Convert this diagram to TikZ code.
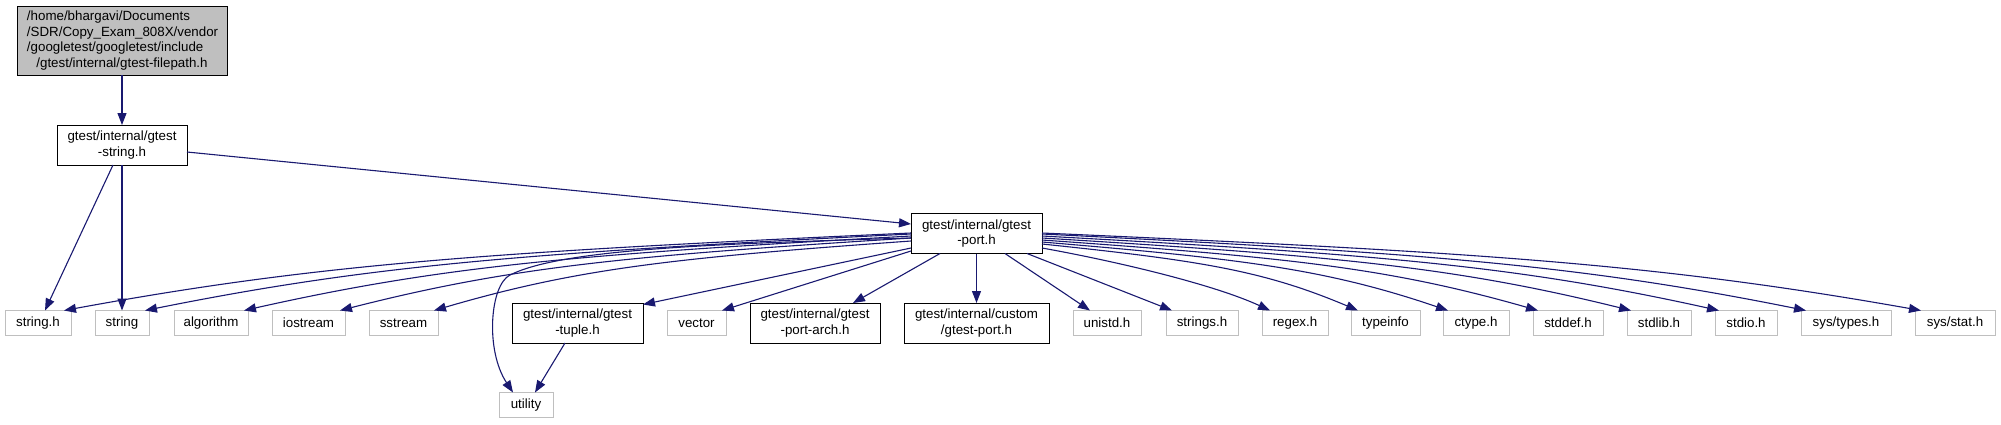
\documentclass[tikz,border=0pt]{standalone}
\usepackage{fontspec}
\setmainfont{Liberation Sans}
\usetikzlibrary{arrows.meta,calc}
\definecolor{edgeblue}{HTML}{191970}
\definecolor{grayline}{HTML}{BFBFBF}
\definecolor{topfill}{HTML}{BFBFBF}
\begin{document}
\begin{tikzpicture}[x=1pt,y=-1pt,
  box/.style={rectangle, inner sep=0pt, outer sep=0pt, line width=1pt, align=center,
    font=\fontsize{13.33}{15.5}\selectfont, fill=white},
  docbox/.style={box, draw=black, minimum height=40pt},
  sysbox/.style={box, draw=grayline, minimum height=25pt},
  topbox/.style={box, draw=black, fill=topfill},
  dep/.style={draw=edgeblue, line width=1.1pt, -{Triangle[length=12pt,width=9pt]}}
]
\useasboundingbox (0,0) rectangle (2001,424);

% nodes
\node[topbox, minimum width=210pt, minimum height=69pt, text width=190pt, align=left] (top) at (122,40.5)
  {/home/bhargavi/Documents\\/SDR/Copy\_Exam\_808X/vendor\\/googletest/googletest/include\\\makebox[\linewidth][c]{/gtest/internal/gtest-filepath.h}};
\node[docbox, minimum width=130pt] (gstr) at (122,145) {gtest/internal/gtest\\-string.h};
\node[docbox, minimum width=131pt] (port) at (976.5,233.5) {gtest/internal/gtest\\-port.h};

\node[sysbox, minimum width=66pt] (strh) at (38,323) {string.h};
\node[sysbox, minimum width=54pt] (str) at (122,323) {string};
\node[sysbox, minimum width=74pt] (algo) at (211,323) {algorithm};
\node[sysbox, minimum width=73pt] (iostr) at (308.5,323) {iostream};
\node[sysbox, minimum width=69pt] (sstr) at (403.5,323) {sstream};
\node[docbox, minimum width=131pt] (tuple) at (577.5,323) {gtest/internal/gtest\\-tuple.h};
\node[sysbox, minimum width=59pt] (vec) at (696.5,323) {vector};
\node[docbox, minimum width=130pt] (arch) at (815,323) {gtest/internal/gtest\\-port-arch.h};
\node[docbox, minimum width=145pt] (cust) at (976.5,323) {gtest/internal/custom\\/gtest-port.h};
\node[sysbox, minimum width=68pt] (unistd) at (1107,323) {unistd.h};
\node[sysbox, minimum width=72pt] (strings) at (1202,323) {strings.h};
\node[sysbox, minimum width=66pt] (regex) at (1295,323) {regex.h};
\node[sysbox, minimum width=69pt] (typeinfo) at (1385.5,323) {typeinfo};
\node[sysbox, minimum width=66pt] (ctype) at (1476,323) {ctype.h};
\node[sysbox, minimum width=70pt] (stddef) at (1568,323) {stddef.h};
\node[sysbox, minimum width=64pt] (stdlib) at (1659,323) {stdlib.h};
\node[sysbox, minimum width=62pt] (stdio) at (1746,323) {stdio.h};
\node[sysbox, minimum width=90pt] (systypes) at (1846,323) {sys/types.h};
\node[sysbox, minimum width=80pt] (sysstat) at (1955,323) {sys/stat.h};
\node[sysbox, minimum width=54pt] (utility) at (526,405) {utility};

% edges
\draw[dep] (top) -- (gstr);
\draw[dep] ($(gstr.south)+(-9,0)$) -- ($(strh.north)+(7,0)$);
\draw[dep] (gstr) -- (str);
\draw[dep] ($(gstr.east)+(0,7)$) -- ($(port.west)+(0,-9.5)$);

\draw[dep] ($(port.west)+(0,-0.5)$) .. controls (487.5,252.25) and (318,263.8) .. ($(strh.north east)+(-7,0)$);
\draw[dep] ($(port.west)+(0,0.5)$) .. controls (528,253) and (374.8,264.4) .. ($(str.north east)+(-4,0)$);
\draw[dep] ($(port.west)+(0,2.5)$) .. controls (577.5,254.5) and (444,265.6) .. ($(algo.north east)+(-4,0)$);
\draw[dep] ($(port.west)+(0,4.5)$) .. controls (625.5,256) and (511,266.8) .. ($(iostr.north east)+(-5,0)$);
\draw[dep] ($(port.west)+(0,7.5)$) .. controls (672.5,258) and (577,268.6) .. ($(sstr.north east)+(-4,0)$);
\draw[dep] ($(port.west)+(0,4.5)$) .. controls (700,244) and (560,250) .. (510,275)
  .. controls (490,285) and (485,350) .. ($(utility.north)+(-13,0)$);
\draw[dep] ($(port.west)+(0,14.5)$) -- ($(tuple.north east)+(0,1.5)$);
\draw[dep] ($(port.west)+(0,17.5)$) -- ($(vec.north east)+(-4,0)$);
\draw[dep] ($(tuple.south)+(-12.5,0)$) -- ($(utility.north)+(9,0)$);
\draw[dep] ($(port.south)+(-36.5,0)$) -- ($(arch.north)+(38,0)$);
\draw[dep] (port) -- (cust);
\draw[dep] ($(port.south)+(28.5,0)$) -- ($(unistd.north)+(-17,0)$);
\draw[dep] ($(port.south east)+(-15,0)$) -- ($(strings.north west)+(6,0)$);

\draw[dep] ($(port.east)+(0,14.5)$) .. controls (1120,262) and (1215,285) .. ($(regex.north west)+(8,0)$);
\draw[dep] ($(port.east)+(0,10.5)$) .. controls (1200,260.5) and (1263.2,270.4) .. ($(typeinfo.north west)+(7,0)$);
\draw[dep] ($(port.east)+(0,8.5)$) .. controls (1245,259) and (1326.2,269.2) .. ($(ctype.north west)+(5,0)$);
\draw[dep] ($(port.east)+(0,6.5)$) .. controls (1290,257.5) and (1389.2,268) .. ($(stddef.north west)+(5,0)$);
\draw[dep] ($(port.east)+(0,4.5)$) .. controls (1336.5,256) and (1454.3,266.8) .. ($(stdlib.north west)+(4,0)$);
\draw[dep] ($(port.east)+(0,2.5)$) .. controls (1380.5,254.5) and (1515.9,265.6) .. ($(stdio.north west)+(4,0)$);
\draw[dep] ($(port.east)+(0,0.5)$) .. controls (1424,253) and (1576.8,264.4) .. ($(systypes.north west)+(5,0)$);
\draw[dep] ($(port.east)+(0,-0.5)$) .. controls (1481.5,252.25) and (1657.3,263.8) .. ($(sysstat.north west)+(6,0)$);
\end{tikzpicture}
\end{document}
